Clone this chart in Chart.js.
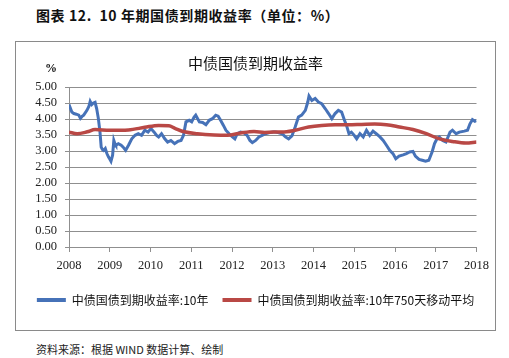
<!DOCTYPE html>
<html>
<head>
<meta charset="utf-8">
<script src="https://cdn.jsdelivr.net/npm/chart.js@4"></script>
<style>
  html, body { margin:0; padding:0; background:#fff; }
  body { width:509px; height:358px; position:relative; overflow:hidden; font-family:"Noto Sans CJK SC", sans-serif; }
  #pageTitle { position:absolute; left:36px; top:5px; font-size:14px; font-weight:bold; color:#111; white-space:nowrap; letter-spacing:0.6px; }
  #box { position:absolute; left:15px; top:41px; width:479px; height:288px; border:1px solid #8a8a8a; }
  #chartTitle { position:absolute; left:0; width:479px; top:10px; text-align:center; font-size:15px; color:#111; }
  #pct { position:absolute; left:29px; top:19px; font-size:12px; font-weight:bold; color:#111; font-family:"Liberation Serif", serif; }
  #source { position:absolute; left:36px; top:341px; font-size:11px; color:#222; white-space:nowrap; }
  canvas { position:absolute; left:0; top:0; }
</style>
</head>
<body>
<div id="pageTitle">图表 12.&nbsp; 10 年期国债到期收益率（单位：%）</div>
<div id="box">
  <canvas id="c" width="479" height="288"></canvas>
  <div id="chartTitle">中债国债到期收益率</div>
  <div id="pct">%</div>
</div>
<div id="source">资料来源：根据 WIND 数据计算、绘制</div>
<script>
// ---- data ----
const seriesNames = ['中债国债到期收益率:10年', '中债国债到期收益率:10年750天移动平均'];
const yearTicks = [2008, 2009, 2010, 2011, 2012, 2013, 2014, 2015, 2016, 2017, 2018];
const yieldTicks = [0, 0.5, 1, 1.5, 2, 2.5, 3, 3.5, 4, 4.5, 5];

const yieldDates = [
  2008.00,2008.03,2008.07,2008.12,2008.18,2008.24,2008.28,2008.32,2008.36,2008.44,2008.49,2008.52,2008.56,2008.60,2008.64,2008.68,2008.72,2008.76,2008.79,2008.82,2008.85,2008.89,2008.93,2008.97,
  2009.00,2009.03,2009.07,2009.10,2009.13,2009.15,2009.21,2009.28,2009.33,2009.39,2009.46,2009.54,2009.62,2009.70,2009.78,2009.86,2009.94,
  2010.01,2010.09,2010.15,2010.20,2010.27,2010.35,2010.42,2010.50,2010.59,2010.67,2010.75,2010.81,2010.87,2010.95,
  2011.01,2011.07,2011.11,2011.20,2011.28,2011.36,2011.44,2011.52,2011.60,2011.66,2011.72,2011.79,2011.85,2011.93,
  2012.01,2012.07,2012.13,2012.21,2012.29,2012.37,2012.44,2012.50,2012.58,2012.66,2012.74,2012.82,2012.90,
  2013.01,2013.07,2013.15,2013.23,2013.31,2013.39,2013.47,2013.55,2013.63,2013.71,2013.80,2013.86,2013.89,2013.96,
  2014.04,2014.12,2014.20,2014.29,2014.37,2014.45,2014.53,2014.61,2014.69,2014.76,2014.81,2014.87,2014.93,
  2015.00,2015.06,2015.14,2015.22,2015.30,2015.38,2015.46,2015.54,2015.63,2015.71,2015.79,2015.87,2015.95,
  2016.02,2016.10,2016.20,2016.28,2016.36,2016.44,2016.50,2016.59,2016.67,2016.75,2016.83,2016.91,2016.97,
  2017.03,2017.09,2017.17,2017.25,2017.35,2017.41,2017.50,2017.58,2017.70,2017.78,2017.84,2017.90,2017.96,2018.00
];
const yieldValues = [
  4.45,4.35,4.22,4.17,4.15,4.12,4.02,4.08,4.12,4.27,4.40,4.55,4.45,4.50,4.52,4.32,4.02,3.60,3.12,3.05,3.02,3.08,2.92,2.81,
  2.75,2.68,2.87,3.33,3.22,3.18,3.23,3.18,3.12,3.02,3.18,3.38,3.49,3.54,3.49,3.65,3.59,
  3.70,3.59,3.49,3.44,3.54,3.38,3.28,3.33,3.23,3.30,3.33,3.49,3.91,3.96,
  3.91,4.06,4.12,3.91,3.89,3.82,3.96,4.01,4.12,4.09,3.96,3.80,3.65,3.54,
  3.44,3.38,3.54,3.59,3.57,3.49,3.33,3.26,3.33,3.44,3.49,3.54,3.57,
  3.59,3.59,3.57,3.54,3.44,3.38,3.47,3.75,4.06,4.12,4.27,4.53,4.72,4.58,
  4.64,4.53,4.48,4.32,4.17,4.01,4.17,4.27,4.22,3.96,3.80,3.54,3.59,
  3.49,3.38,3.54,3.44,3.65,3.49,3.62,3.54,3.44,3.33,3.18,3.02,2.92,
  2.76,2.84,2.88,2.92,2.97,2.99,2.84,2.74,2.71,2.68,2.71,2.97,3.23,
  3.38,3.44,3.33,3.28,3.59,3.65,3.54,3.59,3.62,3.65,3.85,3.98,3.93,3.95
];

const maDates = [
  2008.00,2008.20,2008.45,2008.64,2009.00,2009.46,2009.86,2010.20,2010.45,2010.60,2010.83,2011.15,2011.56,2011.89,
  2012.21,2012.54,2012.80,2013.02,2013.23,2013.55,2013.88,2014.20,2014.53,2014.85,2015.18,2015.50,2015.79,
  2016.11,2016.44,2016.77,2017.09,2017.41,2017.74,2018.00
];
const maValues = [
  3.59,3.54,3.60,3.67,3.65,3.66,3.74,3.80,3.79,3.71,3.60,3.54,3.50,3.49,
  3.56,3.61,3.58,3.59,3.59,3.65,3.75,3.80,3.82,3.82,3.83,3.84,3.82,
  3.75,3.67,3.54,3.38,3.30,3.25,3.28
];

const BLUE = '#4672B8';
const RED = '#B94845';
const GRID = '#8f8f8f';

const toPoints = (xs, ys) => xs.map((x, i) => ({ x: x, y: ys[i] }));

new Chart(document.getElementById('c'), {
  type: 'line',
  data: {
    datasets: [
      { label: seriesNames[0], data: toPoints(yieldDates, yieldValues), borderColor: BLUE, backgroundColor: BLUE,
        borderWidth: 3, pointRadius: 0, tension: 0, order: 1 },
      { label: seriesNames[1], data: toPoints(maDates, maValues), borderColor: RED, backgroundColor: RED,
        borderWidth: 3.5, pointRadius: 0, tension: 0.4, cubicInterpolationMode: 'monotone', order: 0 }
    ]
  },
  options: {
    responsive: false,
    animation: false,
    layout: { padding: { left: 0, right: 0, top: 45, bottom: 14 } },
    plugins: {
      title: { display: false },
      tooltip: { enabled: false },
      legend: {
        display: true,
        position: 'bottom',
        labels: {
          boxWidth: 29, boxHeight: 4, padding: 14,
          color: '#111',
          font: { family: '"Noto Sans CJK SC", sans-serif', size: 12 },
          sort: (a, b) => a.datasetIndex - b.datasetIndex,
          generateLabels: (chart) => {
            const items = Chart.defaults.plugins.legend.labels.generateLabels(chart);
            items.forEach(it => { it.lineWidth = 0; });
            return items;
          }
        }
      }
    },
    scales: {
      x: {
        type: 'linear', min: yearTicks[0], max: yearTicks[yearTicks.length - 1],
        afterBuildTicks: (s) => { s.ticks = yearTicks.map(v => ({ value: v })); },
        afterFit: (s) => { s.height = 33; },
        border: { display: true, color: GRID, width: 1 },
        grid: { display: true, drawOnChartArea: false, drawTicks: true, tickLength: 5, color: GRID },
        ticks: { color: '#222', padding: 6, maxRotation: 0, autoSkip: false,
          font: { family: '"Liberation Serif", serif', size: 12.5 },
          callback: (v) => String(v) }
      },
      y: {
        min: 0, max: 5,
        afterBuildTicks: (s) => { s.ticks = yieldTicks.map(v => ({ value: v })); },
        afterFit: (s) => { s.width = 53; },
        border: { display: true, color: GRID, width: 1 },
        grid: { color: GRID, lineWidth: 1, drawTicks: true, tickLength: 4 },
        ticks: { color: '#222', padding: 8, autoSkip: false,
          font: { family: '"Liberation Serif", serif', size: 12.5, lineHeight: 1 },
          callback: (v) => Number(v).toFixed(2) }
      },
      yRightSpace: {
        type: 'linear', position: 'right', min: 0, max: 5,
        afterFit: (s) => { s.width = 16; },
        border: { display: false },
        grid: { display: false, drawTicks: false },
        ticks: { display: false }
      }
    }
  }
});
</script>
</body>
</html>
